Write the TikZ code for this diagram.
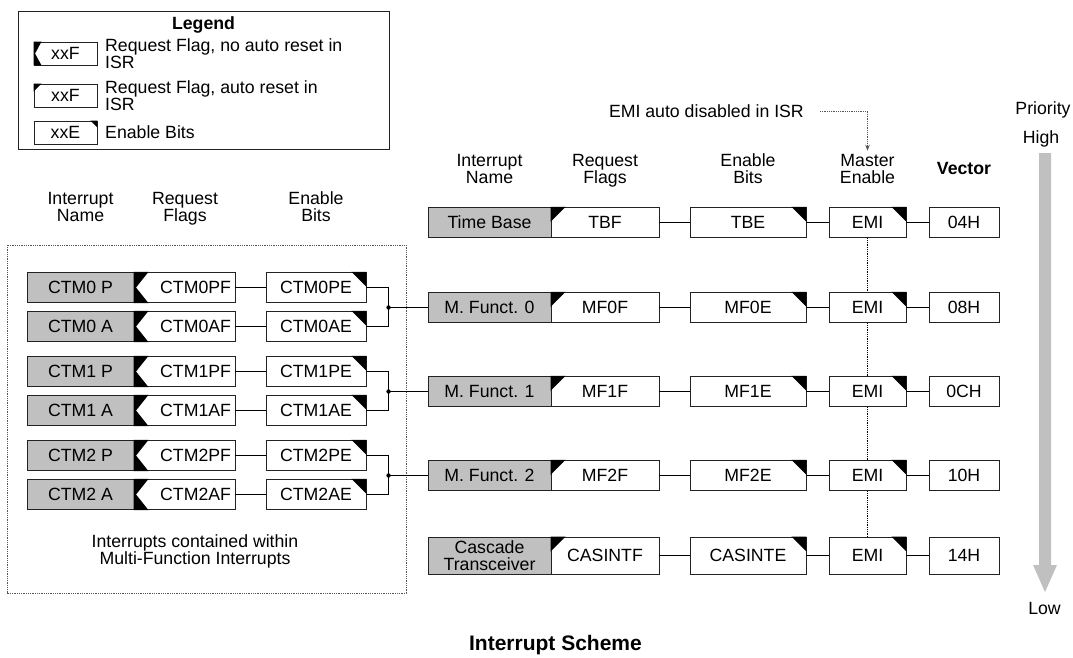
\documentclass[tikz,border=0pt]{standalone}
\usepackage{fontspec}
\setmainfont{Liberation Sans}
\usetikzlibrary{calc,arrows.meta}
\definecolor{boxgray}{HTML}{C0C0C0}
\definecolor{linec}{HTML}{222222}
\definecolor{dotc}{HTML}{555555}
\newcommand\fsn{\fontsize{17.7}{17}\selectfont}
\newcommand\fsl{\fontsize{17.7}{14}\selectfont}
\begin{document}
\begin{tikzpicture}[x=1pt,y=-1pt,
  box/.style={draw=linec, line width=0.9pt, inner sep=0pt, font=\fsn, minimum height=30.5pt, anchor=center},
  namebox/.style={box, fill=boxgray},
  wbox/.style={box, fill=white},
  hdr/.style={font=\fsn, align=center, inner sep=0pt, text depth=0pt},
  conn/.style={draw=black, line width=0.9pt},
  dotln/.style={line width=0.9pt, dash pattern=on 0.9pt off 0.9pt},
]
\useasboundingbox (0,0) rectangle (1073,657);

% ---------- Legend ----------
\draw[linec, line width=0.9pt] (18,11) rectangle (389,149);
\node[font=\fsn\bfseries, inner sep=0pt] (legt) at (203.5,25) {Legend};
\node[wbox, minimum width=63pt, minimum height=23pt] (lg1) at (65.5,53.5) {xxF};
\fill (lg1.north west) -- ++(8,0) -- ($(lg1.west)+(1.5,0)$) -- ($(lg1.south west)+(8,0)$) -- (lg1.south west) -- cycle;
\node[wbox, minimum width=63pt, minimum height=23pt] (lg2) at (65.5,95.5) {xxF};
\fill (lg2.north west) -- ++(8,0) -- ++(-8,8) -- cycle;
\node[wbox, minimum width=63pt, minimum height=23pt] (lg3) at (65.5,132.5) {xxE};
\fill (lg3.north east) -- ++(-7,0) -- ++(7,7) -- cycle;
\node[font=\fsl, align=left, anchor=west, inner sep=0pt] (lt1) at (105,53.5) {Request Flag, no auto reset in\\ISR};
\node[font=\fsl, align=left, anchor=west, inner sep=0pt] (lt2) at (105,95.5) {Request Flag, auto reset in\\ISR};
\node[font=\fsl, align=left, anchor=west, inner sep=0pt] (lt3) at (105,132.5) {Enable Bits};

% ---------- Left headers ----------
\node[hdr] (lh1) at (80.5,206.5) {Interrupt\\Name};
\node[hdr] (lh2) at (185,206.5) {Request\\Flags};
\node[hdr] (lh3) at (316,206.5) {Enable\\Bits};

% ---------- Right headers ----------
\node[hdr, anchor=east] (note) at (804,111) {EMI auto disabled in ISR};
\node[hdr] (rh1) at (489.5,168.5) {Interrupt\\Name};
\node[hdr] (rh2) at (605,168.5) {Request\\Flags};
\node[hdr] (rh3) at (748,168.5) {Enable\\Bits};
\node[hdr] (rh4) at (867.5,168.5) {Master\\Enable};
\node[hdr, font=\fsn\bfseries] (rh5) at (964,168.5) {Vector};
\draw[dotln, draw=dotc, shorten <=16pt, shorten >=3pt, -{Stealth[length=6pt,width=4.5pt]}] (note.east) -| (rh4.north);

% ---------- Left container ----------
\draw[dotln, draw=dotc] (7,245) rectangle (406,593);
\node[hdr] (inner) at (195,550) {Interrupts contained within\\Multi-Function Interrupts};

% ---------- Right rows ----------
\foreach \i/\y/\nm/\fl/\en/\vc in {0/222.5/Time Base/TBF/TBE/04H, 1/307.5/M. Funct. 0/MF0F/MF0E/08H, 2/391.5/M. Funct. 1/MF1F/MF1E/0CH, 3/475.5/M. Funct. 2/MF2F/MF2E/10H}{
  \node[namebox, minimum width=123pt] (rn\i) at (489.5,\y) {\nm};
  \node[wbox, minimum width=108pt] (rf\i) at (605,\y) {\fl};
  \node[wbox, minimum width=116pt] (re\i) at (748,\y) {\en};
  \node[wbox, minimum width=77pt] (rm\i) at (867.5,\y) {EMI};
  \node[wbox, minimum width=70pt] (rv\i) at (964,\y) {\vc};
  \fill (rf\i.north west) -- ++(15,0) -- ++(-15,15) -- cycle;
  \fill (re\i.north east) -- ++(-15,0) -- ++(15,15) -- cycle;
  \fill (rm\i.north east) -- ++(-15,0) -- ++(15,15) -- cycle;
  \draw[conn] (rf\i) -- (re\i);
  \draw[conn] (re\i) -- (rm\i);
  \draw[conn] (rm\i) -- (rv\i);
}
% Cascade row
\node[namebox, minimum width=123pt, minimum height=37pt, align=center, font=\fontsize{17.7}{17}\selectfont] (rn4) at (489.5,555.5) {Cascade\\Transceiver};
\node[wbox, minimum width=108pt, minimum height=37pt] (rf4) at (605,555.5) {CASINTF};
\node[wbox, minimum width=116pt, minimum height=37pt] (re4) at (748,555.5) {CASINTE};
\node[wbox, minimum width=77pt, minimum height=37pt] (rm4) at (867.5,555.5) {EMI};
\node[wbox, minimum width=70pt, minimum height=37pt] (rv4) at (964,555.5) {14H};
\fill (rf4.north west) -- ++(15,0) -- ++(-15,15) -- cycle;
\fill (re4.north east) -- ++(-15,0) -- ++(15,15) -- cycle;
\fill (rm4.north east) -- ++(-15,0) -- ++(15,15) -- cycle;
\draw[conn] (rf4) -- (re4);
\draw[conn] (re4) -- (rm4);
\draw[conn] (rm4) -- (rv4);

% EMI chain (dotted)
\foreach \a/\b in {0/1,1/2,2/3,3/4}{
  \draw[dotln, draw=black] (rm\a) -- (rm\b);
}

% ---------- Left rows ----------
\foreach \i/\y/\nm/\fl/\en in {0/287.5/CTM0 P/CTM0PF/CTM0PE, 1/326.5/CTM0 A/CTM0AF/CTM0AE, 2/371.5/CTM1 P/CTM1PF/CTM1PE, 3/410.5/CTM1 A/CTM1AF/CTM1AE, 4/455.5/CTM2 P/CTM2PF/CTM2PE, 5/494.5/CTM2 A/CTM2AF/CTM2AE}{
  \node[namebox, minimum width=107pt] (ln\i) at (80.5,\y) {\nm};
  \node[wbox, text width=93pt, inner xsep=4pt, align=right] (lf\i) at (184.5,\y) {\fl};
  \node[wbox, minimum width=100pt] (le\i) at (316,\y) {\en};
  \fill (lf\i.north west) -- ++(15,0) -- ($(lf\i.west)+(2.5,0)$) -- ($(lf\i.south west)+(15,0)$) -- (lf\i.south west) -- cycle;
  \fill (le\i.north east) -- ++(-15,0) -- ++(15,15) -- cycle;
  \draw[conn] (lf\i) -- (le\i);
}

% Junctions into multi-function rows
\foreach \p/\a/\r in {0/1/1, 2/3/2, 4/5/3}{
  \path (rn\r.west) ++(-39,0) coordinate (j\r);
  \draw[conn] (le\p.east) -| (j\r) |- (le\a.east);
  \draw[conn] (j\r) -- (rn\r.west);
  \fill (j\r) circle (2.2pt);
}

% ---------- Priority arrow ----------
\node[hdr] (prio) at (1043,108) {Priority};
\node[hdr] (high) at (1041,137) {High};
\node[hdr] (low) at (1044.5,608) {Low};
\fill[boxgray] (1039,153) -- (1051,153) -- (1051,565) -- (1057,565) -- (1045,592) -- (1033,565) -- (1039,565) -- cycle;

% ---------- Title ----------
\node[font=\fontsize{21}{21}\selectfont\bfseries, inner sep=0pt] (title) at (555.5,645.5) {Interrupt Scheme};
\end{tikzpicture}
\end{document}
